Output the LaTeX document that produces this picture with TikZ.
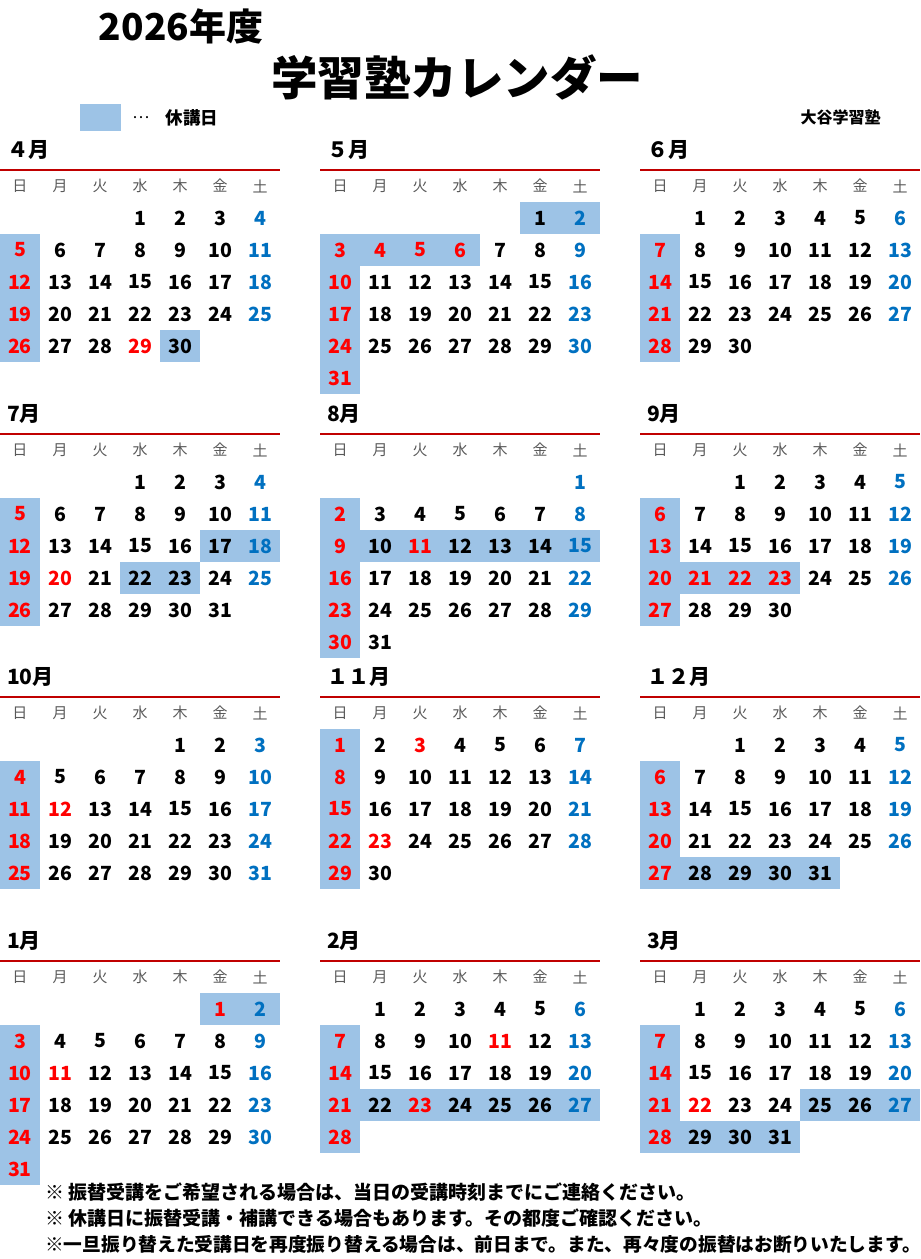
\documentclass[tikz,border=0pt]{standalone}
\usepackage{fontspec}
\setmainfont{Noto Sans CJK JP}
\usetikzlibrary{positioning}

\definecolor{kyukou}{HTML}{9DC3E6}
\definecolor{aka}{HTML}{FF0000}
\definecolor{ao}{HTML}{0070C0}
\definecolor{sen}{HTML}{C00000}
\definecolor{hai}{HTML}{595959}

\tikzset{
    youbi/.style={inner sep=0pt, text=hai, font=\fontsize{15}{15}\selectfont},
    hiduke/.style={inner sep=0pt, font=\fontsize{19.5}{19.5}\selectfont\bfseries},
    tsukimei/.style={inner sep=0pt, anchor=west, font=\fontsize{21}{21}\selectfont\bfseries},
    chuui/.style={inner sep=0pt, anchor=west, font=\fontsize{19}{19}\selectfont\bfseries},
}

\makeatletter
\newcommand{\iroerabi}[2]{%
    \edef\tmp@iro{\noexpand\in@{,#1,}{,\akalist,}}\tmp@iro
    \ifin@ \def\iro{aka}\else
        \ifnum#2=0 \def\iro{aka}\else
            \ifnum#2=6 \def\iro{ao}\else \def\iro{black}\fi
        \fi
    \fi}
\makeatother

% #1 name, #2 x, #3 top of first row, #4 title, #5 weekday of the 1st, #6 days, #7 holidays, #8 closed days
\newcommand{\tsuki}[8]{
    \def\akalist{#7}
    \foreach \hi in {#8} {
        \pgfmathtruncatemacro{\ichi}{#5+\hi-1}
        \pgfmathtruncatemacro{\retsu}{mod(\ichi,7)}
        \pgfmathtruncatemacro{\gyou}{div(\ichi,7)}
        \fill[kyukou] (#2+40*\retsu,#3+32*\gyou) rectangle ++(40,32);
    }
    \node (#1) [tsukimei] at (#2+7,#3-52) {#4};
    \coordinate (#1-l) at (#2,#3-32);
    \coordinate (#1-r) at (#2+280,#3-32);
    \draw[sen, line width=1.2pt] (#1-l) -- (#1-r);
    \foreach \w [count=\yi from 0] in {日,月,火,水,木,金,土}
        \node (#1-w\yi) [youbi] at (#2+20+40*\yi,#3-16) {\w};
    \foreach \hi in {1,...,#6} {
        \pgfmathtruncatemacro{\ichi}{#5+\hi-1}
        \pgfmathtruncatemacro{\retsu}{mod(\ichi,7)}
        \pgfmathtruncatemacro{\gyou}{div(\ichi,7)}
        \iroerabi{\hi}{\retsu}
        \node (#1-\hi) [hiduke, text=\iro] at (#2+20+40*\retsu,#3+16+32*\gyou) {\hi};
    }
}

\begin{document}
\begin{tikzpicture}[x=1pt, y=-1pt]
        \useasboundingbox (0,0) rectangle (921,1259);
        \node (nendo) [font=\fontsize{37}{37}\selectfont\bfseries] at (181,26) {2026年度};
        \node (midashi) [font=\fontsize{46.5}{46.5}\selectfont\bfseries] at (457,77) {学習塾カレンダー};
        \node (hanrei) [fill=kyukou, minimum width=41pt, minimum height=27pt, inner sep=0pt] at (100.5,117.5) {};
        \node (tensen) [right=11pt of hanrei, inner sep=0pt, font=\fontsize{16}{16}\selectfont] {…};
        \node (kyu) [right=16pt of tensen, inner sep=0pt, font=\fontsize{17.5}{17.5}\selectfont\bfseries] {休講日};
        \node (jukumei) [font=\fontsize{16}{16}\selectfont\bfseries] at (840.5,117) {大谷学習塾};

        \tsuki{apr}{0}{202}{４月}{3}{30}{29}{5,12,19,26,30}
        \tsuki{may}{320}{202}{５月}{5}{31}{4,5,6}{1,2,3,4,5,6,10,17,24,31}
        \tsuki{jun}{640}{202}{６月}{1}{30}{}{7,14,21,28}
        \tsuki{jul}{0}{466}{7月}{3}{31}{20}{5,12,19,26,17,18,22,23}
        \tsuki{aug}{320}{466}{8月}{6}{31}{11}{2,9,10,11,12,13,14,15,16,23,30}
        \tsuki{sep}{640}{466}{9月}{2}{30}{21,22,23}{6,13,20,21,22,23,27}
        \tsuki{oct}{0}{729}{10月}{4}{31}{12}{4,11,18,25}
        \tsuki{nov}{320}{729}{１１月}{0}{30}{3,23}{1,8,15,22,29}
        \tsuki{dec}{640}{729}{１２月}{2}{31}{}{6,13,20,27,28,29,30,31}
        \tsuki{jan}{0}{993}{1月}{5}{31}{1,11}{1,2,3,10,17,24,31}
        \tsuki{feb}{320}{993}{2月}{1}{28}{11,23}{7,14,21,22,23,24,25,26,27,28}
        \tsuki{mar}{640}{993}{3月}{1}{31}{22}{7,14,21,25,26,27,28,29,30,31}

        \node (chuui1) [chuui] at (45,1192) {※ 振替受講をご希望される場合は、当日の受講時刻までにご連絡ください。};
        \node (chuui2) [chuui] at (45,1218) {※ 休講日に振替受講・補講できる場合もあります。その都度ご確認ください。};
        \node (chuui3) [chuui, font=\fontsize{18.7}{18.7}\selectfont\bfseries] at (45,1244) {※一旦振り替えた受講日を再度振り替える場合は、前日まで。また、再々度の振替はお断りいたします。};
    \end{tikzpicture}
\end{document}
